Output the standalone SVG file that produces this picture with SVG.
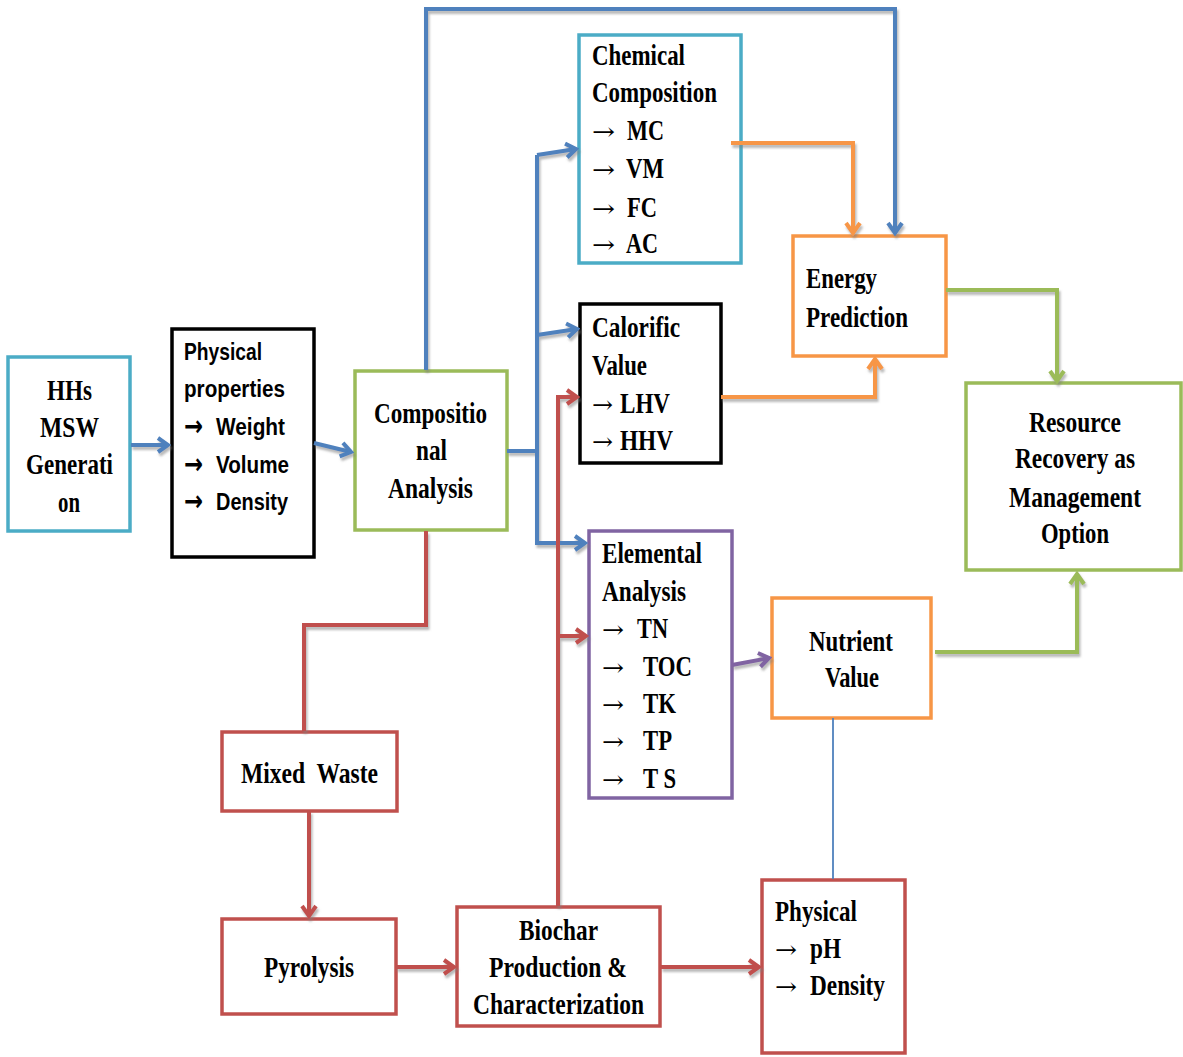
<svg xmlns="http://www.w3.org/2000/svg" width="1183" height="1057" viewBox="0 0 1183 1057">
<style>
.box{fill:#fff;stroke-width:3.5}
.t{font-family:"Liberation Serif","Times New Roman",serif;font-weight:bold;font-size:29px;fill:#000}
.a{font-family:"DejaVu Serif","Liberation Serif",serif;font-weight:normal;font-size:24px;fill:#000}
.s{font-family:"Liberation Sans",Arial,sans-serif;font-weight:bold;font-size:23px;fill:#000}
.sa{font-family:"DejaVu Sans","Liberation Sans",sans-serif;font-weight:bold;font-size:29px;fill:#000}
.c{fill:none;stroke-width:4;stroke-linejoin:miter}
.blue{stroke:#4F81BD}.orange{stroke:#F79646}.green{stroke:#9BBB59}.red{stroke:#C0504D}.purple{stroke:#8064A2}
</style>
<defs>
<filter id="sh" x="-5%" y="-5%" width="110%" height="110%">
<feDropShadow dx="1.5" dy="3" stdDeviation="1.2" flood-color="#808080" flood-opacity="0.55"/>
</filter>
<marker id="mb" markerUnits="userSpaceOnUse" markerWidth="16" markerHeight="18" viewBox="0 0 16 18" refX="13" refY="9" orient="auto"><path d="M3,2 L13,9 L3,16" fill="none" stroke="#4F81BD" stroke-width="4"/></marker>
<marker id="mo" markerUnits="userSpaceOnUse" markerWidth="16" markerHeight="18" viewBox="0 0 16 18" refX="13" refY="9" orient="auto"><path d="M3,2 L13,9 L3,16" fill="none" stroke="#F79646" stroke-width="4"/></marker>
<marker id="mg" markerUnits="userSpaceOnUse" markerWidth="16" markerHeight="18" viewBox="0 0 16 18" refX="13" refY="9" orient="auto"><path d="M3,2 L13,9 L3,16" fill="none" stroke="#9BBB59" stroke-width="4"/></marker>
<marker id="mr" markerUnits="userSpaceOnUse" markerWidth="16" markerHeight="18" viewBox="0 0 16 18" refX="13" refY="9" orient="auto"><path d="M3,2 L13,9 L3,16" fill="none" stroke="#C0504D" stroke-width="4"/></marker>
<marker id="mp" markerUnits="userSpaceOnUse" markerWidth="16" markerHeight="18" viewBox="0 0 16 18" refX="13" refY="9" orient="auto"><path d="M3,2 L13,9 L3,16" fill="none" stroke="#8064A2" stroke-width="4"/></marker>
</defs>
<rect width="1183" height="1057" fill="#fff"/>

<g id="hhs">
<rect class="box" x="8" y="357" width="122" height="174" stroke="#4BACC6"/>
<text class="t" x="47" y="400" textLength="45" lengthAdjust="spacingAndGlyphs">HHs</text>
<text class="t" x="40" y="437" textLength="59" lengthAdjust="spacingAndGlyphs">MSW</text>
<text class="t" x="26" y="474" textLength="87" lengthAdjust="spacingAndGlyphs">Generati</text>
<text class="t" x="58" y="512" textLength="22" lengthAdjust="spacingAndGlyphs">on</text>
</g>

<g id="physical-properties">
<rect class="box" x="172" y="329" width="142" height="228" stroke="#000"/>
<text class="s" x="184" y="360" textLength="78" lengthAdjust="spacingAndGlyphs">Physical</text>
<text class="s" x="184" y="397" textLength="101" lengthAdjust="spacingAndGlyphs">properties</text>
<text class="sa" x="184" y="436" textLength="19" lengthAdjust="spacingAndGlyphs">→</text>
<text class="s" x="216" y="435" textLength="69" lengthAdjust="spacingAndGlyphs">Weight</text>
<text class="sa" x="184" y="474" textLength="19" lengthAdjust="spacingAndGlyphs">→</text>
<text class="s" x="216" y="473" textLength="73" lengthAdjust="spacingAndGlyphs">Volume</text>
<text class="sa" x="184" y="511" textLength="19" lengthAdjust="spacingAndGlyphs">→</text>
<text class="s" x="216" y="510" textLength="72" lengthAdjust="spacingAndGlyphs">Density</text>
</g>

<g id="compositional-analysis">
<rect class="box" x="355" y="371" width="152" height="159" stroke="#9BBB59"/>
<text class="t" x="374" y="423" textLength="113" lengthAdjust="spacingAndGlyphs">Compositio</text>
<text class="t" x="416" y="460" textLength="31" lengthAdjust="spacingAndGlyphs">nal</text>
<text class="t" x="388" y="498" textLength="85" lengthAdjust="spacingAndGlyphs">Analysis</text>
</g>

<g id="chemical-composition">
<rect class="box" x="579" y="35" width="162" height="228" stroke="#4BACC6"/>
<text class="t" x="592" y="65" textLength="93" lengthAdjust="spacingAndGlyphs">Chemical</text>
<text class="t" x="592" y="102" textLength="125" lengthAdjust="spacingAndGlyphs">Composition</text>
<text class="a" x="592" y="140" textLength="23" lengthAdjust="spacingAndGlyphs">→</text>
<text class="t" x="627" y="140" textLength="37" lengthAdjust="spacingAndGlyphs">MC</text>
<text class="a" x="592" y="178" textLength="23" lengthAdjust="spacingAndGlyphs">→</text>
<text class="t" x="626" y="178" textLength="38" lengthAdjust="spacingAndGlyphs">VM</text>
<text class="a" x="592" y="217" textLength="23" lengthAdjust="spacingAndGlyphs">→</text>
<text class="t" x="627" y="217" textLength="30" lengthAdjust="spacingAndGlyphs">FC</text>
<text class="a" x="592" y="253" textLength="23" lengthAdjust="spacingAndGlyphs">→</text>
<text class="t" x="626" y="253" textLength="32" lengthAdjust="spacingAndGlyphs">AC</text>
</g>

<g id="calorific-value">
<rect class="box" x="580" y="304" width="141" height="159" stroke="#000"/>
<text class="t" x="592" y="337" textLength="88" lengthAdjust="spacingAndGlyphs">Calorific</text>
<text class="t" x="592" y="375" textLength="55" lengthAdjust="spacingAndGlyphs">Value</text>
<text class="a" x="592" y="413" textLength="21" lengthAdjust="spacingAndGlyphs">→</text>
<text class="t" x="620" y="413" textLength="50" lengthAdjust="spacingAndGlyphs">LHV</text>
<text class="a" x="592" y="450" textLength="21" lengthAdjust="spacingAndGlyphs">→</text>
<text class="t" x="620" y="450" textLength="53" lengthAdjust="spacingAndGlyphs">HHV</text>
</g>

<g id="energy-prediction">
<rect class="box" x="793" y="236" width="153" height="120" stroke="#F79646"/>
<text class="t" x="806" y="288" textLength="71" lengthAdjust="spacingAndGlyphs">Energy</text>
<text class="t" x="806" y="327" textLength="102" lengthAdjust="spacingAndGlyphs">Prediction</text>
</g>

<g id="resource-recovery">
<rect class="box" x="966" y="383" width="215" height="187" stroke="#9BBB59"/>
<text class="t" x="1029" y="432" textLength="92" lengthAdjust="spacingAndGlyphs">Resource</text>
<text class="t" x="1015" y="468" textLength="120" lengthAdjust="spacingAndGlyphs">Recovery as</text>
<text class="t" x="1009" y="507" textLength="132" lengthAdjust="spacingAndGlyphs">Management</text>
<text class="t" x="1041" y="543" textLength="68" lengthAdjust="spacingAndGlyphs">Option</text>
</g>

<g id="elemental-analysis">
<rect class="box" x="589" y="531" width="143" height="267" stroke="#8064A2"/>
<text class="t" x="602" y="563" textLength="100" lengthAdjust="spacingAndGlyphs">Elemental</text>
<text class="t" x="602" y="601" textLength="84" lengthAdjust="spacingAndGlyphs">Analysis</text>
<text class="a" x="602" y="638" textLength="22" lengthAdjust="spacingAndGlyphs">→</text>
<text class="t" x="637" y="638" textLength="31" lengthAdjust="spacingAndGlyphs">TN</text>
<text class="a" x="602" y="676" textLength="22" lengthAdjust="spacingAndGlyphs">→</text>
<text class="t" x="643" y="676" textLength="49" lengthAdjust="spacingAndGlyphs">TOC</text>
<text class="a" x="602" y="713" textLength="22" lengthAdjust="spacingAndGlyphs">→</text>
<text class="t" x="643" y="713" textLength="33" lengthAdjust="spacingAndGlyphs">TK</text>
<text class="a" x="602" y="750" textLength="22" lengthAdjust="spacingAndGlyphs">→</text>
<text class="t" x="643" y="750" textLength="29" lengthAdjust="spacingAndGlyphs">TP</text>
<text class="a" x="602" y="788" textLength="22" lengthAdjust="spacingAndGlyphs">→</text>
<text class="t" x="643" y="788" textLength="33" lengthAdjust="spacingAndGlyphs">T S</text>
</g>

<g id="nutrient-value">
<rect class="box" x="772" y="598" width="159" height="120" stroke="#F79646"/>
<text class="t" x="809" y="651" textLength="84" lengthAdjust="spacingAndGlyphs">Nutrient</text>
<text class="t" x="825" y="687" textLength="54" lengthAdjust="spacingAndGlyphs">Value</text>
</g>

<g id="mixed-waste">
<rect class="box" x="222" y="732" width="175" height="79" stroke="#C0504D"/>
<text class="t" x="241" y="783" textLength="137" lengthAdjust="spacingAndGlyphs" style="white-space:pre">Mixed  Waste</text>
</g>

<g id="pyrolysis">
<rect class="box" x="222" y="919" width="174" height="95" stroke="#C0504D"/>
<text class="t" x="264" y="977" textLength="90" lengthAdjust="spacingAndGlyphs">Pyrolysis</text>
</g>

<g id="biochar">
<rect class="box" x="457" y="907" width="203" height="119" stroke="#C0504D"/>
<text class="t" x="519" y="940" textLength="79" lengthAdjust="spacingAndGlyphs">Biochar</text>
<text class="t" x="489" y="977" textLength="138" lengthAdjust="spacingAndGlyphs">Production &amp;</text>
<text class="t" x="473" y="1014" textLength="171" lengthAdjust="spacingAndGlyphs">Characterization</text>
</g>

<g id="physical-ph">
<rect class="box" x="762" y="880" width="143" height="173" stroke="#C0504D"/>
<text class="t" x="775" y="921" textLength="82" lengthAdjust="spacingAndGlyphs">Physical</text>
<text class="a" x="775" y="958" textLength="22" lengthAdjust="spacingAndGlyphs">→</text>
<text class="t" x="810" y="958" textLength="31" lengthAdjust="spacingAndGlyphs">pH</text>
<text class="a" x="775" y="995" textLength="22" lengthAdjust="spacingAndGlyphs">→</text>
<text class="t" x="810" y="995" textLength="75" lengthAdjust="spacingAndGlyphs">Density</text>
</g>

<g id="connectors">
<g filter="url(#sh)">
<path class="c blue" d="M131,445 L168,445" marker-end="url(#mb)"/>
<path class="c blue" d="M314,443 L351,452" marker-end="url(#mb)"/>
<path class="c blue" d="M426,370 L426,9 L895,9 L895,233" marker-end="url(#mb)"/>
<path class="c blue" d="M507,451 L537,451"/>
<path class="c blue" d="M537,155 L537,543 L585,543" marker-end="url(#mb)"/>
<path class="c blue" d="M537,155 L576,149" marker-end="url(#mb)"/>
<path class="c blue" d="M537,335 L577,329" marker-end="url(#mb)"/>
<path class="c orange" d="M731,143 L853,143 L853,233" marker-end="url(#mo)"/>
<path class="c orange" d="M721,397 L875,397 L875,359" marker-end="url(#mo)"/>
<path class="c green" d="M946,290 L1057,290 L1057,381" marker-end="url(#mg)"/>
<path class="c green" d="M935,652 L1077,652 L1077,574" marker-end="url(#mg)"/>
<path class="c purple" d="M732,665 L769,658" marker-end="url(#mp)"/>
<path class="c red" d="M426,531 L426,625 L304,625 L304,731"/>
<path class="c red" d="M309,811 L309,916" marker-end="url(#mr)"/>
<path class="c red" d="M396,967 L454,967" marker-end="url(#mr)"/>
<path class="c red" d="M661,967 L759,967" marker-end="url(#mr)"/>
<path class="c red" d="M558,906 L558,397 L577,397" marker-end="url(#mr)"/>
<path class="c red" d="M558,636 L586,636" marker-end="url(#mr)"/>
</g>
<path d="M833,718 L833,879" fill="none" stroke="#4F81BD" stroke-width="1.8"/>
</g>
</svg>
